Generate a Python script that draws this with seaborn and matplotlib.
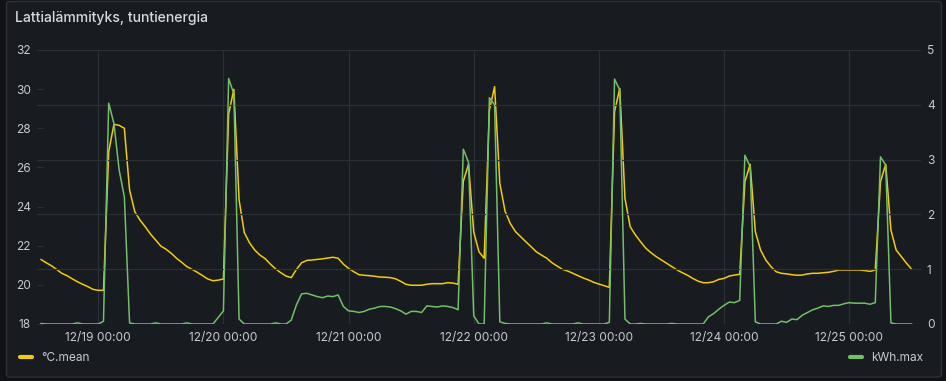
import pandas as pd
import matplotlib
matplotlib.use("Agg")
import matplotlib.pyplot as plt
import matplotlib.dates as mdates
from matplotlib.lines import Line2D
from matplotlib.patches import FancyBboxPatch
import seaborn as sns

# hourly samples, first one at 12/18 13:00
start_time = "2023-12-18 13:00"

temp_mean = [
    21.30, 21.13, 20.98, 20.79, 20.59, 20.47, 20.31, 20.16, 20.03, 19.91, 19.77, 19.72,
    19.72, 26.80, 28.20, 28.15, 28.00, 24.85, 23.74, 23.31, 22.97, 22.60, 22.29, 21.98,
    21.82, 21.61, 21.36, 21.15, 20.93, 20.79, 20.64, 20.47, 20.30, 20.21, 20.24, 20.30,
    28.73, 29.99, 24.34, 22.67, 22.15, 21.78, 21.52, 21.34, 21.06, 20.82, 20.62, 20.45,
    20.37, 20.79, 21.13, 21.25, 21.27, 21.30, 21.33, 21.37, 21.41, 21.36, 21.06, 20.84,
    20.67, 20.52, 20.49, 20.47, 20.44, 20.40, 20.39, 20.37, 20.31, 20.18, 20.03, 19.98,
    19.98, 19.98, 20.03, 20.06, 20.06, 20.06, 20.11, 20.09, 20.03, 25.30, 26.16, 22.70,
    21.69, 21.36, 28.93, 30.13, 25.19, 23.77, 23.14, 22.72, 22.46, 22.20, 21.95, 21.69,
    21.52, 21.36, 21.13, 20.96, 20.79, 20.71, 20.59, 20.47, 20.35, 20.25, 20.13, 20.04,
    19.96, 19.87, 28.85, 30.04, 24.42, 22.97, 22.55, 22.20, 21.87, 21.64, 21.44, 21.27,
    21.10, 20.93, 20.76, 20.62, 20.49, 20.33, 20.19, 20.11, 20.11, 20.16, 20.28, 20.33,
    20.45, 20.50, 20.54, 25.27, 26.16, 22.72, 21.78, 21.27, 20.93, 20.67, 20.59, 20.56,
    20.52, 20.49, 20.50, 20.56, 20.59, 20.59, 20.62, 20.64, 20.69, 20.76, 20.76, 20.76,
    20.76, 20.76, 20.73, 20.69, 20.76, 25.27, 26.16, 22.80, 21.78, 21.44, 21.10, 20.79,
]

kwh_max = [
    0.01, 0.00, 0.00, 0.00, 0.00, 0.00, 0.00, 0.02, 0.00, 0.00, 0.00, 0.00,
    0.05, 4.03, 3.66, 2.81, 2.32, 0.02, 0.00, 0.00, 0.00, 0.00, 0.02, 0.00,
    0.00, 0.00, 0.00, 0.00, 0.02, 0.00, 0.00, 0.00, 0.00, 0.00, 0.12, 0.24,
    4.48, 4.20, 0.09, 0.00, 0.00, 0.00, 0.00, 0.00, 0.00, 0.02, 0.00, 0.00,
    0.07, 0.35, 0.55, 0.56, 0.53, 0.50, 0.48, 0.51, 0.50, 0.53, 0.32, 0.24,
    0.23, 0.21, 0.23, 0.27, 0.29, 0.32, 0.32, 0.31, 0.28, 0.24, 0.18, 0.23,
    0.23, 0.21, 0.33, 0.32, 0.31, 0.33, 0.32, 0.30, 0.26, 3.19, 2.95, 0.15,
    0.00, 0.00, 4.13, 4.00, 0.04, 0.01, 0.00, 0.00, 0.00, 0.00, 0.00, 0.00,
    0.00, 0.02, 0.00, 0.00, 0.00, 0.00, 0.00, 0.02, 0.00, 0.00, 0.00, 0.00,
    0.00, 0.03, 4.47, 4.27, 0.09, 0.00, 0.00, 0.01, 0.00, 0.00, 0.00, 0.00,
    0.00, 0.01, 0.00, 0.00, 0.00, 0.00, 0.00, 0.00, 0.13, 0.19, 0.27, 0.34,
    0.40, 0.39, 0.43, 3.08, 2.87, 0.04, 0.00, 0.00, 0.00, 0.00, 0.05, 0.03,
    0.09, 0.08, 0.16, 0.21, 0.26, 0.29, 0.33, 0.32, 0.34, 0.34, 0.37, 0.39,
    0.38, 0.38, 0.38, 0.36, 0.39, 3.05, 2.90, 0.02, 0.00, 0.00, 0.00, 0.00,
]

temp_ticks = [18, 20, 22, 24, 26, 28, 30, 32]
kwh_ticks = [0, 1, 2, 3, 4, 5]

title = "Lattialämmityks, tuntienergia"
temp_label = "°C.mean"
kwh_label = "kWh.max"

times = pd.date_range(start_time, periods=len(temp_mean), freq="h")
df = pd.DataFrame({"time": times, "temp": temp_mean, "kwh": kwh_max})

yellow = "#F2CC0C"
green = "#73BF69"
text_col = "#c7c8d2"
grid_col = "#2c2f35"
panel_bg = "#181b1f"

sns.set_theme(style="dark")
plt.rcParams["font.family"] = ["Inter", "DejaVu Sans"]

fig = plt.figure(figsize=(9.46, 3.81), dpi=100, facecolor="#111217")
panel = FancyBboxPatch((0.065, 0.04), 9.35, 3.755,
                       boxstyle="round,pad=0,rounding_size=0.03",
                       transform=fig.dpi_scale_trans,
                       facecolor=panel_bg, edgecolor="#2e3036", lw=1.0, zorder=-10)
fig.patches.append(panel)

ax = fig.add_axes([37 / 946, 57 / 381, 884 / 946, 274 / 381])
ax.set_facecolor("none")
ax2 = ax.twinx()
ax2.set_facecolor("none")

sns.lineplot(data=df, x="time", y="temp", ax=ax, color=yellow, linewidth=1.1)
sns.lineplot(data=df, x="time", y="kwh", ax=ax2, color=green, linewidth=1.1)

ax.set_xlim(times[0] - pd.Timedelta(minutes=45), times[-1] + pd.Timedelta(minutes=106))
ax.set_ylim(18, 32)
ax2.set_ylim(0, 5)
ax.set_yticks(temp_ticks)
ax2.set_yticks(kwh_ticks)
ax.xaxis.set_major_locator(mdates.DayLocator())
ax.xaxis.set_major_formatter(mdates.DateFormatter("%m/%d %H:%M"))

for a in (ax, ax2):
    a.set_xlabel("")
    a.set_ylabel("")
    for s in a.spines.values():
        s.set_visible(False)

ax.grid(axis="x", color=grid_col, lw=0.9)
ax.grid(axis="y", visible=False)
ax2.grid(axis="y", color=grid_col, lw=0.9)
ax2.grid(axis="x", visible=False)
ax2.set_axisbelow(True)

ax.tick_params(axis="x", length=0, pad=5.5, labelsize=8.6, labelcolor=text_col)
ax.tick_params(axis="y", direction="in", length=4, width=0.8, color=grid_col,
               pad=4.3, labelsize=8.6, labelcolor=text_col)
ax2.tick_params(axis="y", length=0, pad=4.3, labelsize=8.6, labelcolor=text_col)

fig.text(15 / 946, 1 - 18 / 381, title, color="#d8d9e0", fontsize=10.1,
         fontweight="medium", va="center", ha="left")

leg_y = 1 - 358 / 381
h1 = Line2D([], [], color=yellow, lw=3, solid_capstyle="round")
h2 = Line2D([], [], color=green, lw=3, solid_capstyle="round")
leg1 = fig.legend([h1], [temp_label], loc="center left", bbox_to_anchor=(20 / 946, leg_y),
                  frameon=False, borderpad=0, borderaxespad=0, handlelength=1.0,
                  handletextpad=0.75, fontsize=8.6, labelcolor=text_col)
leg2 = fig.legend([h2], [kwh_label], loc="center left", bbox_to_anchor=(850 / 946, leg_y),
                  frameon=False, borderpad=0, borderaxespad=0, handlelength=1.0,
                  handletextpad=0.75, fontsize=8.6, labelcolor=text_col)

fig.savefig("out.png", dpi=100, facecolor=fig.get_facecolor())
